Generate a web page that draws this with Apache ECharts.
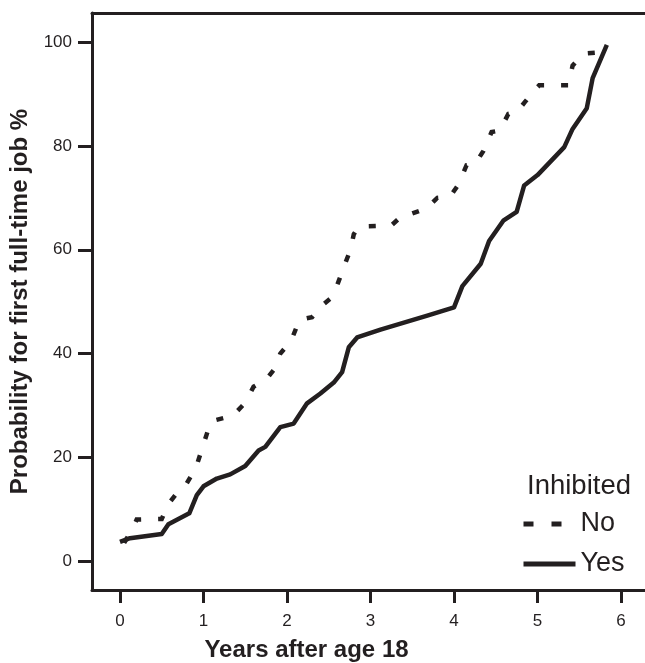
<!DOCTYPE html>
<html>
<head>
<meta charset="utf-8">
<script src="https://cdn.jsdelivr.net/npm/echarts@6/dist/echarts.min.js"></script>
<style>html,body{margin:0;padding:0;background:#fff;}#chart{width:645px;height:663px;}</style>
</head>
<body>
<div id="chart"></div>
<script>
const xTicks = [0, 1, 2, 3, 4, 5, 6];
const yTicks = [0, 20, 40, 60, 80, 100];
const yearsNo = [0.05,0.16,0.2,0.5,0.58,0.7,0.8,0.91,0.98,1.05,1.1,1.35,1.5,1.6,1.75,1.85,1.92,2.05,2.15,2.3,2.4,2.55,2.62,2.7,2.76,2.8,2.86,3.25,3.4,3.5,3.67,3.8,3.95,4.05,4.15,4.25,4.35,4.45,4.55,4.65,4.75,4.85,4.95,5.02,5.37,5.42,5.55,5.7,5.83];
const probNo = [3.5,6.5,8,8.1,11,13.5,15,18,21.5,25,27,28,30.5,33.6,35,37,40,42.5,46.5,47,49,51,54,57.5,60,63,64.5,64.7,66.9,67,68,70,70.2,72.5,76.3,76.5,79,82.7,83,86.2,86.5,88.5,90.5,91.7,91.7,95.5,97.8,98,99.6];
const yearsYes = [0,0.12,0.5,0.58,0.83,0.92,1.0,1.16,1.32,1.5,1.58,1.66,1.74,1.92,2.08,2.24,2.4,2.56,2.66,2.74,2.84,3.12,3.68,4.0,4.1,4.32,4.42,4.59,4.75,4.84,5.0,5.32,5.42,5.59,5.66,5.83];
const probYes = [3.7,4.4,5.2,7.1,9.2,12.7,14.4,15.9,16.7,18.3,19.8,21.3,22,25.8,26.5,30.4,32.3,34.4,36.4,41.2,43.1,44.6,47.3,48.9,53,57.3,61.7,65.6,67.3,72.4,74.4,79.8,83.3,87.3,93.1,99.5];
const seriesNames = ['No', 'Yes'];
const legendTitle = 'Inhibited';
const xTitle = 'Years after age 18';
const yTitle = 'Probability for first full-time job %';

const INK = '#231f20';
const FONT = "'Liberation Sans', Arial, sans-serif";
const zip = (a, b) => a.map((v, i) => [v, b[i]]);
const hiddenSymbol = {color: 'rgba(0,0,0,0)', borderColor: 'rgba(0,0,0,0)', borderWidth: 0, opacity: 0};

const chart = echarts.init(document.getElementById('chart'), null, {renderer: 'canvas'});
chart.setOption({
  animation: false,
  backgroundColor: '#fff',
  grid: {left: 92, right: 0, top: 13, bottom: 73, containLabel: false, outerBoundsMode: 'none'},
  title: {
    text: legendTitle, left: 527, top: 472, padding: 0,
    textStyle: {fontFamily: FONT, fontSize: 27.5, fontWeight: 'normal', color: INK}
  },
  legend: {
    orient: 'vertical', left: 521, top: 509, padding: 0,
    itemWidth: 52, itemHeight: 14, itemGap: 10,
    textStyle: {fontFamily: FONT, fontSize: 27, color: INK, lineHeight: 30, padding: [0,0,0,0]},
    data: [
      {name: seriesNames[0], lineStyle: {type: [10, 18], width: 5, color: INK, cap: 'butt'}, itemStyle: hiddenSymbol},
      {name: seriesNames[1], lineStyle: {type: 'solid', width: 5, color: INK}, itemStyle: hiddenSymbol}
    ]
  },
  xAxis: [{
    type: 'value', min: -0.335, max: 6.287, position: 'bottom',
    splitLine: {show: false},
    axisLine: {show: true, onZero: false, lineStyle: {color: INK, width: 3}},
    axisTick: {show: true, length: 13, lineStyle: {color: INK, width: 3}, customValues: xTicks},
    axisLabel: {fontFamily: FONT, fontSize: 17, color: INK, margin: 23, customValues: xTicks},
    name: xTitle, nameLocation: 'middle', nameGap: 48,
    nameTextStyle: {fontFamily: FONT, fontSize: 24, fontWeight: 'bold', color: INK, padding: [0, 124, 0, 0]}
  }, {
    type: 'value', min: -0.335, max: 6.287, position: 'top',
    splitLine: {show: false},
    axisLine: {show: true, onZero: false, lineStyle: {color: INK, width: 3}},
    axisTick: {show: false}, axisLabel: {show: false}
  }],
  yAxis: {
    type: 'value', min: -5.59, max: 105.65,
    splitLine: {show: false},
    axisLine: {show: true, onZero: false, lineStyle: {color: INK, width: 3}},
    axisTick: {show: true, length: 14, lineStyle: {color: INK, width: 3}, customValues: yTicks},
    axisLabel: {fontFamily: FONT, fontSize: 17, color: INK, margin: 20, customValues: yTicks},
    name: yTitle, nameLocation: 'middle', nameGap: 49, nameRotate: 90,
    nameTextStyle: {fontFamily: FONT, fontSize: 24, fontWeight: 'bold', color: INK}
  },
  series: [{
    name: seriesNames[0], type: 'line', data: zip(yearsNo, probNo),
    showSymbol: false, symbol: 'none',
    lineStyle: {color: INK, width: 4.5, type: [7, 17], cap: 'butt', join: 'miter'},
    itemStyle: {color: INK}
  }, {
    name: seriesNames[1], type: 'line', data: zip(yearsYes, probYes),
    showSymbol: false, symbol: 'none',
    lineStyle: {color: INK, width: 4.5, type: 'solid', join: 'round'},
    itemStyle: {color: INK}
  }]
});
</script>
</body>
</html>
